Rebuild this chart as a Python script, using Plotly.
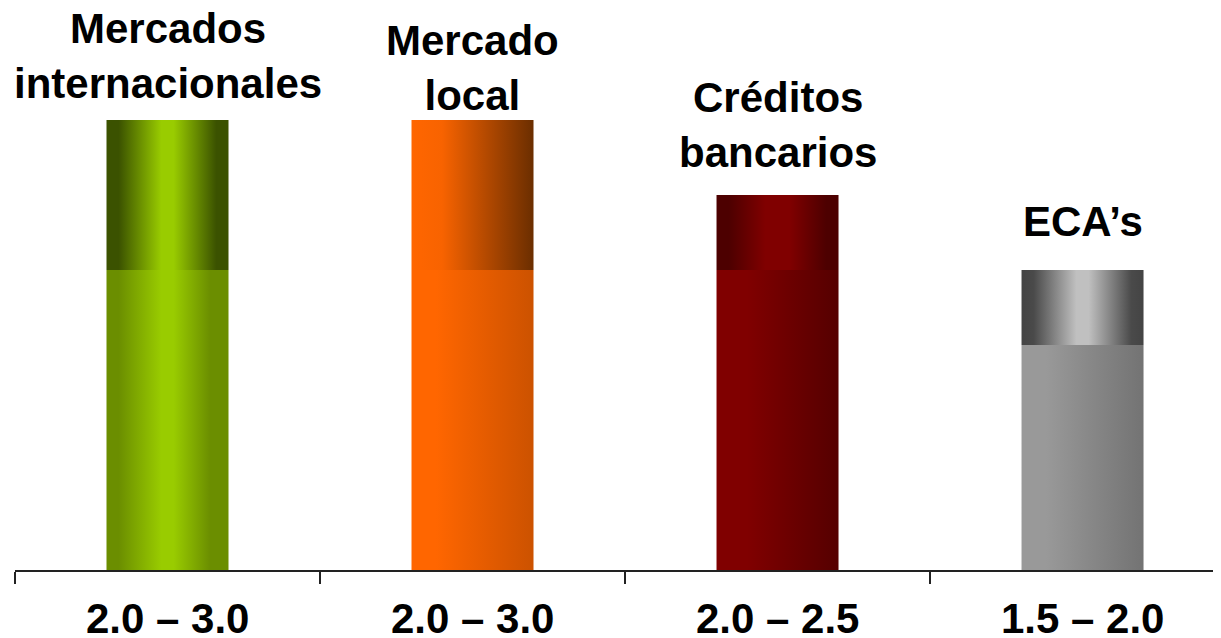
import plotly.graph_objects as go

# Ranges (low - high) per financing source
categories = ["Mercados<br>internacionales", "Mercado<br>local", "Créditos<br>bancarios", "ECA’s"]
low_values = [2.0, 2.0, 2.0, 1.5]
high_values = [3.0, 3.0, 2.5, 2.0]
range_labels = ["2.0 – 3.0", "2.0 – 3.0", "2.0 – 2.5", "1.5 – 2.0"]

# gradient colours: (base segment, top segment)
base_scales = [
    [[0, "#6b8e00"], [0.1, "#6b8e00"], [0.45, "#99cc00"], [0.55, "#99cc00"], [0.85, "#6b8e00"], [1, "#6b8e00"]],
    [[0, "#ff6600"], [0.2, "#ff6600"], [1, "#cc5200"]],
    [[0, "#800000"], [0.25, "#800000"], [1, "#550000"]],
    [[0, "#999999"], [0.2, "#999999"], [1, "#737373"]],
]
top_scales = [
    [[0, "#3b5200"], [0.1, "#3b5200"], [0.45, "#99cc00"], [0.55, "#99cc00"], [0.9, "#3b5200"], [1, "#3b5200"]],
    [[0, "#ff6600"], [0.25, "#f86300"], [1, "#6b2e00"]],
    [[0, "#4d0000"], [0.1, "#4d0000"], [0.4, "#800000"], [0.6, "#800000"], [0.9, "#4d0000"], [1, "#4d0000"]],
    [[0, "#444444"], [0.1, "#4a4a4a"], [0.45, "#c0c0c0"], [0.55, "#c0c0c0"], [0.9, "#4a4a4a"], [1, "#444444"]],
]
label_shift = [11, -1, 17, 23]

bar_w = 0.40
fig = go.Figure()


def rect(i, y0, y1, scale):
    # filled rectangle with a horizontal gradient, in data coordinates
    x0, x1 = i - bar_w / 2, i + bar_w / 2
    return go.Scatter(
        x=[x0, x1, x1, x0, x0],
        y=[y0, y0, y1, y1, y0],
        mode="lines",
        line=dict(width=0),
        fill="toself",
        fillgradient=dict(type="horizontal", colorscale=scale),
        hoverinfo="skip",
        showlegend=False,
    )


for i in range(len(categories)):
    fig.add_trace(rect(i, 0, low_values[i], base_scales[i]))
    fig.add_trace(rect(i, low_values[i], high_values[i], top_scales[i]))
    fig.add_annotation(
        x=i, y=high_values[i], xref="x", yref="y",
        text="<b>" + categories[i] + "</b>",
        showarrow=False, yanchor="bottom", yshift=label_shift[i],
        font=dict(size=42, color="black"),
    )
    fig.add_annotation(
        x=i, y=0, xref="x", yref="paper",
        text="<b>" + range_labels[i] + "</b>",
        showarrow=False, yanchor="middle", yshift=-48,
        font=dict(size=42, color="black"),
    )

# the page body adds an 8px offset, so the figure is a little smaller
fig.update_layout(
    width=1213,
    height=630,
    margin=dict(l=7, r=0, t=0, b=68),
    plot_bgcolor="white",
    paper_bgcolor="white",
    font=dict(family="Liberation Sans, Arial, sans-serif", color="black"),
    showlegend=False,
    xaxis=dict(
        range=[-0.5, 3.454],
        tickvals=[-0.5, 0.5, 1.5, 2.5],
        ticktext=["", "", "", ""],
        ticks="outside",
        ticklen=12,
        tickwidth=2,
        tickcolor="#222222",
        showline=True,
        linecolor="#222222",
        linewidth=2,
        showgrid=False,
        zeroline=False,
        fixedrange=True,
    ),
    yaxis=dict(
        range=[0, 3.747],
        visible=False,
        showgrid=False,
        zeroline=False,
    ),
)

fig.write_html("out.html")
